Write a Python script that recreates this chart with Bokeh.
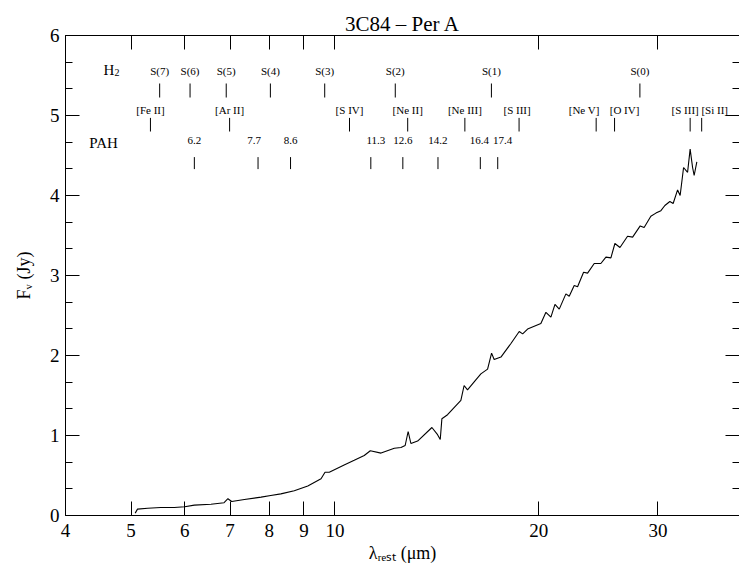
from bokeh.plotting import figure
from bokeh.models import (LogAxis, LinearAxis, FixedTicker, SingleIntervalTicker,
                          NumeralTickFormatter, Label, ColumnDataSource)
from bokeh.embed import file_html
from bokeh.resources import INLINE
from bokeh.core.properties import value

# ---------------- data ----------------
wavelength = [5.07, 5.11, 5.29, 5.53, 5.79, 6.00, 6.20, 6.56, 6.86, 6.95,
              7.04, 7.35, 7.78, 8.04, 8.32, 8.71, 9.12, 9.54, 9.67, 9.81,
              10.32, 10.68, 11.05, 11.28, 11.70, 12.24, 12.52, 12.70, 12.83, 12.95,
              13.25, 13.91, 14.18, 14.31, 14.39, 14.67, 15.35, 15.52, 15.70, 16.06,
              16.43, 16.81, 17.04, 17.19, 17.59, 18.20, 18.72, 18.94, 19.26, 20.15,
              20.50, 20.85, 21.14, 21.45, 21.94, 22.19, 22.57, 22.83, 23.30, 23.62,
              24.16, 24.71, 25.14, 25.57, 25.92, 26.37, 27.06, 27.53, 28.25, 28.63,
              29.29, 29.80, 30.31, 30.72, 31.25, 31.60, 32.08, 32.36, 32.74, 33.19,
              33.48, 33.76, 33.94, 34.25]
flux = [0.03, 0.08, 0.09, 0.10, 0.10, 0.11, 0.13, 0.14, 0.16, 0.21,
        0.175, 0.20, 0.23, 0.25, 0.27, 0.31, 0.37, 0.46, 0.54, 0.54,
        0.63, 0.69, 0.75, 0.81, 0.78, 0.84, 0.85, 0.875, 1.05, 0.90,
        0.93, 1.10, 1.01, 0.95, 1.21, 1.26, 1.44, 1.625, 1.57, 1.67,
        1.77, 1.83, 2.03, 1.95, 1.98, 2.15, 2.30, 2.27, 2.33, 2.40,
        2.54, 2.48, 2.64, 2.58, 2.77, 2.74, 2.875, 2.86, 3.04, 3.03,
        3.15, 3.15, 3.23, 3.22, 3.40, 3.35, 3.49, 3.48, 3.62, 3.60,
        3.74, 3.78, 3.81, 3.875, 3.925, 3.90, 4.07, 4.0, 4.35, 4.29,
        4.58, 4.35, 4.25, 4.42]

h2_names = ["S(7)", "S(6)", "S(5)", "S(4)", "S(3)", "S(2)", "S(1)", "S(0)"]
h2_waves = [5.51, 6.11, 6.91, 8.03, 9.66, 12.28, 17.03, 28.22]

ion_names = ["[Fe II]", "[Ar II]", "[S IV]", "[Ne II]", "[Ne III]", "[S III]",
             "[Ne V]", "[O IV]", "[S III]", "[Si II]"]
ion_waves = [5.34, 6.99, 10.51, 12.81, 15.56, 18.71, 24.32, 25.89, 33.48, 34.82]

pah_names = ["6.2", "7.7", "8.6", "11.3", "12.6", "14.2", "16.4", "17.4"]
pah_waves = [6.2, 7.7, 8.6, 11.3, 12.6, 14.2, 16.4, 17.4]

x_ticks = [4, 5, 6, 7, 8, 9, 10, 20, 30]

# ---------------- styling ----------------
SERIF = "Liberation Serif"
ion_label_shift = [0, 0, 0, 0, 0, -2, -12, 10, -5, 13]   # px, to avoid crowding
pah_label_shift = [0, -4, 0, 5, 0, 0, -1, 5]

p = figure(width=739, height=570, x_axis_type="log", x_range=(4, 39.6), y_range=(0, 6),
           output_backend="svg", toolbar_location=None,
           x_axis_location=None, y_axis_location=None,
           min_border_left=65, min_border_right=0, min_border_top=35, min_border_bottom=55)
p.outline_line_color = None
p.grid.visible = False
p.background_fill_color = "white"
p.border_fill_color = "white"

p.title.text = "3C84 \u2013 Per A"
p.title.align = "center"
p.title.text_font = SERIF
p.title.text_font_size = "21px"
p.title.text_font_style = "normal"
p.title.text_color = "black"
p.title.standoff = 0


def style_axis(ax, show_labels=True):
    ax.major_tick_in = 14
    ax.major_tick_out = 0
    ax.minor_tick_in = 7
    ax.minor_tick_out = 0
    ax.axis_line_color = "black"
    ax.major_tick_line_color = "black"
    ax.minor_tick_line_color = "black"
    ax.major_label_text_font = SERIF
    ax.major_label_text_font_size = "19px"
    ax.major_label_text_color = "black"
    ax.axis_label_text_font = SERIF
    ax.axis_label_text_font_size = "18px"
    ax.axis_label_text_font_style = "normal"
    ax.axis_label_text_color = "black"
    if not show_labels:
        ax.major_label_text_font_size = "1px"
        ax.major_label_text_color = None
        ax.major_label_standoff = 0


xb = LogAxis(ticker=FixedTicker(ticks=x_ticks, minor_ticks=[]),
             formatter=NumeralTickFormatter(format="0"))
style_axis(xb)
xb.major_label_standoff = 8
xb.axis_label = "\u03bb\u1d63\u2091\u209b\u209c (\u03bcm)"
xb.axis_label_standoff = 3
p.add_layout(xb, "below")

xt = LogAxis(ticker=FixedTicker(ticks=x_ticks, minor_ticks=[]),
             formatter=NumeralTickFormatter(format="0"))
style_axis(xt, show_labels=False)
p.add_layout(xt, "above")

yl = LinearAxis(ticker=SingleIntervalTicker(interval=1, num_minor_ticks=3))
style_axis(yl)
yl.major_label_standoff = 6
yl.axis_label = "F\u1d65 (Jy)"
yl.axis_label_standoff = 13
p.add_layout(yl, "left")

yr = LinearAxis(ticker=SingleIntervalTicker(interval=1, num_minor_ticks=3))
style_axis(yr, show_labels=False)
yr.axis_line_color = None
p.add_layout(yr, "right")

# spectrum
p.line(wavelength, flux, line_color="black", line_width=1.1)

# line identifications
lab_font = value(SERIF)
h2_src = ColumnDataSource(dict(x=h2_waves, y=[5.56] * len(h2_waves), t=h2_names))
p.text(x="x", y="y", text="t", source=h2_src, text_align="center",
       text_baseline="alphabetic", text_font=lab_font, text_font_size="11px",
       text_color="black")
p.segment(x0=h2_waves, y0=5.225, x1=h2_waves, y1=5.40, line_color="black", line_width=1)

ion_src = ColumnDataSource(dict(x=ion_waves, y=[5.075] * len(ion_waves), t=ion_names,
                                dx=ion_label_shift))
p.text(x="x", y="y", text="t", x_offset="dx", source=ion_src, text_align="center",
       text_baseline="alphabetic", text_font=lab_font, text_font_size="11px",
       text_color="black")
p.segment(x0=ion_waves, y0=4.80, x1=ion_waves, y1=4.97, line_color="black", line_width=1)

pah_src = ColumnDataSource(dict(x=pah_waves, y=[4.69] * len(pah_waves), t=pah_names,
                                dx=pah_label_shift))
p.text(x="x", y="y", text="t", x_offset="dx", source=pah_src, text_align="center",
       text_baseline="alphabetic", text_font=lab_font, text_font_size="11px",
       text_color="black")
p.segment(x0=pah_waves, y0=4.33, x1=pah_waves, y1=4.48, line_color="black", line_width=1)


# row headers (screen units relative to frame bottom-left)
def add_label(txt, x, y, size, align="left"):
    p.add_layout(Label(x=x, y=y, x_units="screen", y_units="screen", text=txt,
                       text_font=SERIF, text_font_size=size, text_color="black",
                       text_align=align, text_baseline="alphabetic"))


add_label("H", 38, 446, "15px")
add_label("2", 49, 443, "10px")
add_label("PAH", 38, 373, "15px", align="center")

open("out.html", "w").write(file_html(p, INLINE))
